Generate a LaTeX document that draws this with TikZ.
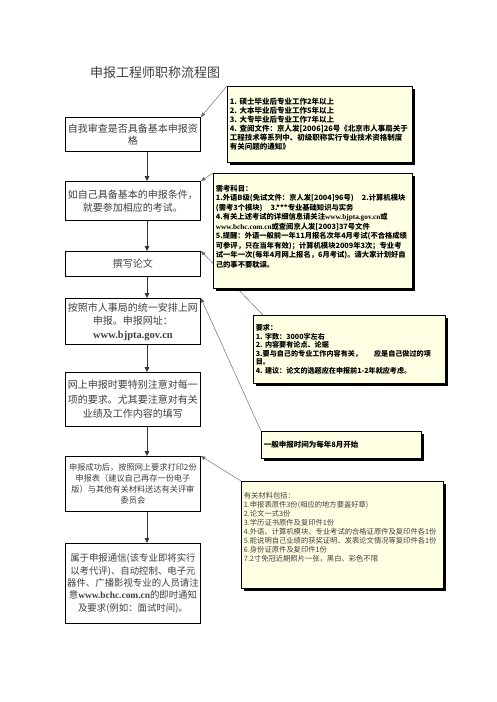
\documentclass[tikz,border=0pt]{standalone}
\usepackage{fontspec}
\setmainfont{Noto Sans CJK SC}
\newfontfamily\lat{Liberation Serif}
\usetikzlibrary{arrows.meta,shadows}
\definecolor{callfill}{HTML}{FFFFE3}
\definecolor{txtgray}{HTML}{404040}
\hfuzz=40pt
\begin{document}
\begin{tikzpicture}[x=1pt,y=-1pt,
 flowbox/.style={draw=black,line width=0.9pt,fill=white,anchor=north west,inner sep=0pt,
   align=center,text=txtgray,minimum width=135pt,text width=134pt,
   drop shadow={shadow xshift=0.8pt,shadow yshift=-0.8pt,opacity=1,fill=black}},
 callbox/.style={draw=black,line width=0.7pt,fill=callfill,anchor=north west,inner sep=2.5pt,
   align=left,drop shadow={shadow xshift=2.2pt,shadow yshift=-2.2pt,opacity=1,fill=black}},
 flowarrow/.style={-{Triangle[length=5pt,width=4.5pt]},line width=1pt,draw=black!80},
 pointer/.style={-{Triangle[length=4.5pt,width=3.5pt]},line width=0.45pt,draw=black!60}]
\useasboundingbox[fill=white] (0,0) rectangle (496,702);

% title
\node[text=txtgray,font=\fontsize{13}{15}\selectfont] (title) at (155,73) {申报工程师职称流程图};

% left flow boxes
\node[flowbox,minimum height=34pt,font=\fontsize{10}{12.5}\selectfont] (b1) at (65,117)
  {自我审查是否具备基本申报资\\格};
\node[flowbox,minimum height=39pt,font=\fontsize{10}{13}\selectfont] (b2) at (65,181)
  {如自己具备基本的申报条件，\\就要参加相应的考试。};
\node[flowbox,minimum height=25pt,font=\fontsize{10}{13}\selectfont] (b3) at (65,251)
  {撰写论文};
\node[flowbox,minimum height=46pt,font=\fontsize{10}{13.5}\selectfont] (b4) at (65,298)
  {按照市人事局的统一安排上网\\申报。申报网址：\\{\lat\bfseries\fontsize{10.5}{13.5}\selectfont www.bjpta.gov.cn}};
\node[flowbox,minimum height=54pt,font=\fontsize{10}{14.5}\selectfont] (b5) at (65,372)
  {网上申报时要特别注意对每一\\项的要求。尤其要注意对有关\\业绩及工作内容的填写};
\node[flowbox,minimum height=55pt,font=\fontsize{8.2}{10.8}\selectfont] (b6) at (65,456)
  {申报成功后，按照网上要求打印2份\\申报表（建议自己再存一份电子\\版）与其他有关材料送达有关评审\\委员会};
\node[flowbox,minimum height=80pt,font=\fontsize{9.4}{12.3}\selectfont] (b7) at (65,543)
  {属于申报通信(该专业即将实行\\以考代评)、自动控制、电子元\\器件、广播影视专业的人员请注\\意{\lat\bfseries www.bchc.com.cn}的即时通知\\及要求(例如：面试时间)。};

% flow arrows
\coordinate (ax) at (147,0);
\draw[flowarrow] (ax |- b1.south) -- (ax |- b2.north);
\draw[flowarrow] (ax |- b2.south) -- (ax |- b3.north);
\draw[flowarrow] (ax |- b3.south) -- (ax |- b4.north);
\draw[flowarrow] (ax |- b4.south) -- (ax |- b5.north);
\draw[flowarrow] (ax |- b5.south) -- (ax |- b6.north);
\draw[flowarrow] (ax |- b6.south) -- (ax |- b7.north);

% callout C (drawn first so that its pointer passes behind B)
\node[callbox,minimum width=192pt,minimum height=68pt,text width=187pt,
  font=\fontsize{7.1}{8.6}\selectfont\bfseries] (C) at (253,315)
  {要求：\\1.~字数：3000字左右\\2.~内容要有论点、论据\\3.要与自己的专业工作内容有关，\hspace{12pt}应是自己做过的项\\目。\\4.~建议：论文的选题应在申报前1-2年就应考虑。};
\draw[pointer] ([xshift=10pt]C.north west) -- (b3.north east);

% callout D
\node[callbox,minimum width=160pt,minimum height=27pt,text width=155pt,
  font=\fontsize{7.5}{9}\selectfont\bfseries] (D) at (261,431)
  {一般申报时间为每年8月开始};
\draw[pointer] (D.north west) -- (b4.north east);

% callout A
\node[callbox,minimum width=185pt,minimum height=76pt,text width=180pt,
  font=\fontsize{7.5}{9}\selectfont\bfseries] (A) at (227,86)
  {1.~硕士毕业后专业工作2年以上\\2.~大本毕业后专业工作5年以上\\3.~大专毕业后专业工作7年以上\\4.~查阅文件：京人发[2006]26号《北京市人事局关于\\工程技术等系列中、初级职称实行专业技术资格制度\\有关问题的通知》};
\draw[pointer] (A.north west) -- (b1.north east);

% callout B
\node[callbox,minimum width=199pt,minimum height=115pt,text width=194pt,
  font=\fontsize{7.3}{9.5}\selectfont\bfseries] (B) at (213,173)
  {需考科目：\\1.外语B级(免试文件：京人发[2004]96号)\hspace{8pt}2.计算机模块\\(需考3个模块)\hspace{8pt}3.***专业基础知识与实务\\4.有关上述考试的详细信息请关注{\lat www.bjpta.gov.cn}或\\{\lat www.bchc.com.cn}或查阅京人发[2003]37号文件\\5.提醒：外语一般前一年11月报名次年4月考试(不合格成绩\\可参评，只在当年有效)；计算机模块2009年3次；专业考\\试一年一次(每年4月网上报名，6月考试)。请大家计划好自\\己的事不要耽误。\\[-0.5pt]\mbox{}};
\draw[pointer] (B.north west) -- (b2.north east);

% callout E
\node[callbox,minimum width=202pt,minimum height=107pt,text width=197pt,text=black!75,
  font=\fontsize{7.3}{9}\selectfont] (E) at (241,481)
  {有关材料包括：\\1.申报表原件3份(相应的地方要盖好章)\\2.论文一式3份\\3.学历证书原件及复印件1份\\4.外语、计算机模块、专业考试的合格证原件及复印件各1份\\5.能说明自己业绩的获奖证明、发表论文情况等复印件各1份\\6.身份证原件及复印件1份\\7.2寸免冠近期照片一张，黑白、彩色不限\\[7pt]\mbox{}};
\draw[pointer] (E.north west) -- (b6.north east);
\end{tikzpicture}
\end{document}
